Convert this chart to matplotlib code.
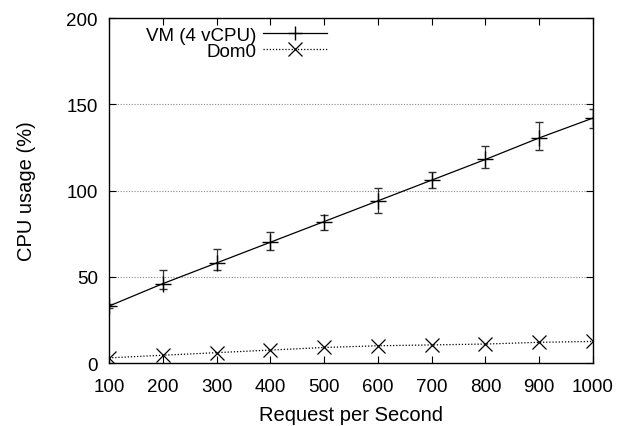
import matplotlib
matplotlib.use("Agg")
import matplotlib.pyplot as plt
from matplotlib.lines import Line2D

plt.rcParams['font.family'] = ['Liberation Sans', 'DejaVu Sans']

# data
requests = [100, 200, 300, 400, 500, 600, 700, 800, 900, 1000]
vm_cpu = [33, 46, 58, 70, 82, 94, 106, 118, 130.5, 142]
vm_err_low = [1, 3, 4, 4.5, 5, 7, 4.7, 5, 7, 6]
vm_err_high = [1, 8, 8, 5.7, 4, 7.5, 4.5, 8, 9.5, 5]
dom0_cpu = [3, 4.5, 6, 7.5, 9, 10, 10.5, 11, 12, 12.5]

fig = plt.figure(figsize=(6.21, 4.27), dpi=100)
ax = fig.add_axes([0.1755, 0.1475, 0.7794, 0.808])

ax.errorbar(requests, vm_cpu, yerr=[vm_err_low, vm_err_high], color='black',
            lw=0.9, marker='+', ms=11, mew=1.0, capsize=3, elinewidth=0.9,
            ecolor='#333333')
dotted = (0, (1, 1.5))
ax.plot(requests, dom0_cpu, color='black', lw=0.9, ls=dotted,
        marker='x', ms=10, mew=0.9)

ax.set_xlim(100, 1000)
ax.set_ylim(0, 200)
ax.set_xticks(requests)
ax.set_yticks([0, 50, 100, 150, 200])
for y in [50, 100, 150]:
    ax.axhline(y, color='#888888', lw=0.8, ls=dotted, zorder=0)

ax.tick_params(direction='in', top=True, right=True, labelsize=13.5,
               length=5, width=0.8)
ax.tick_params(axis='x', pad=11)
ax.tick_params(axis='y', pad=8)
for s in ax.spines.values():
    s.set_linewidth(1.0)

ax.set_xlabel('Request per Second', fontsize=14.5, labelpad=7)
ax.set_ylabel('CPU usage (%)', fontsize=14.5, labelpad=22)

handles = [Line2D([], [], color='black', lw=0.9, marker='+', ms=10, mew=1.0),
           Line2D([], [], color='black', lw=0.9, ls=dotted, marker='x',
                  ms=10, mew=0.9)]
labels = ['VM (4 vCPU)', 'Dom0']
ax.legend(handles, labels, loc='upper right', bbox_to_anchor=(0.45, 0.975),
          frameon=False, markerfirst=False, fontsize=13.5,
          handlelength=3.4, handletextpad=0.35, borderpad=0,
          borderaxespad=0, labelspacing=-0.05)

fig.savefig('out.png', dpi=100)
